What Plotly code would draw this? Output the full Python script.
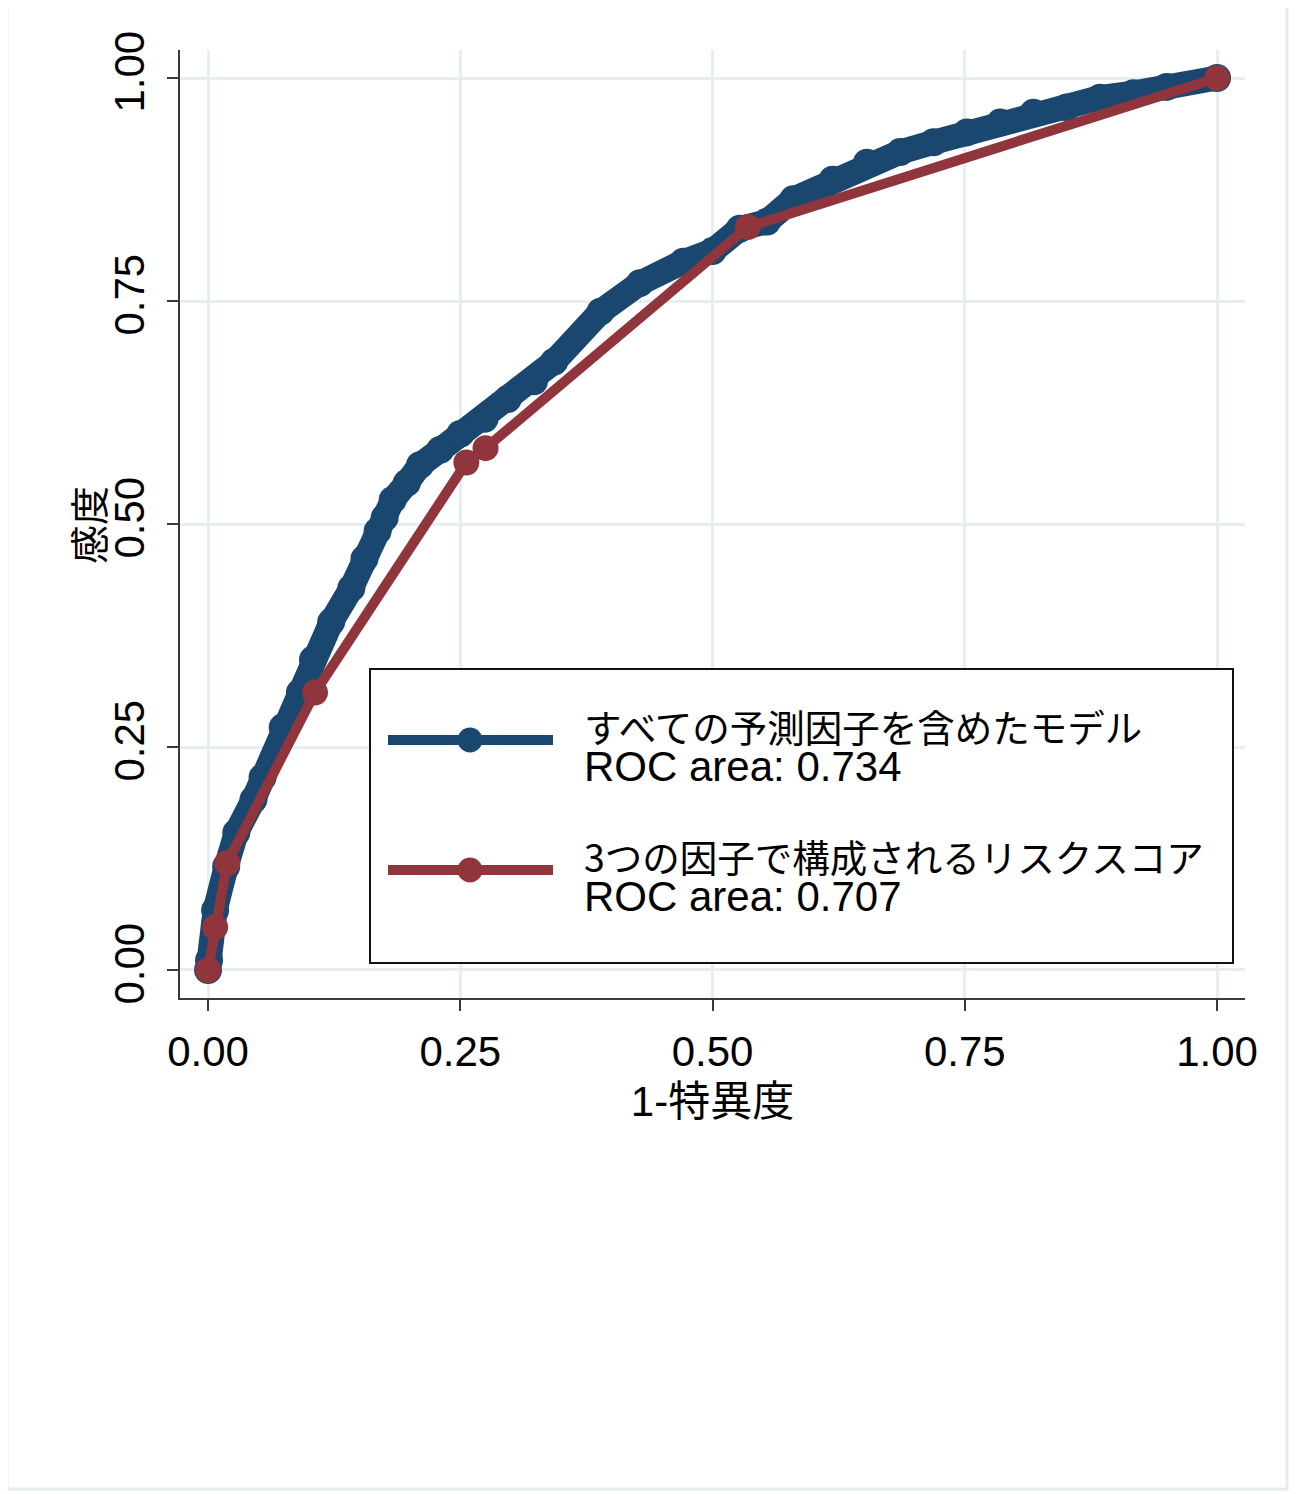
import plotly.graph_objects as go

# ---------------- data ----------------
full_model_fpr = [0.000, 0.001, 0.007, 0.018, 0.028, 0.045, 0.054, 0.074, 0.091, 0.104,
                  0.122, 0.142, 0.155, 0.168, 0.175, 0.183, 0.197, 0.210, 0.230, 0.250,
                  0.274, 0.297, 0.323, 0.343, 0.389, 0.428, 0.471, 0.500, 0.527, 0.554,
                  0.580, 0.619, 0.653, 0.686, 0.719, 0.752, 0.785, 0.818, 0.851, 0.884,
                  0.917, 0.950, 1.000]
full_model_tpr = [0.000, 0.011, 0.067, 0.116, 0.154, 0.191, 0.216, 0.272, 0.311, 0.348,
                  0.390, 0.428, 0.461, 0.492, 0.507, 0.527, 0.546, 0.566, 0.583, 0.601,
                  0.618, 0.640, 0.660, 0.682, 0.738, 0.770, 0.794, 0.806, 0.831, 0.839,
                  0.864, 0.886, 0.905, 0.917, 0.928, 0.939, 0.950, 0.961, 0.967, 0.978,
                  0.983, 0.990, 1.000]

risk_score_fpr = [0.000, 0.007, 0.019, 0.106, 0.256, 0.275, 0.535, 1.000]
risk_score_tpr = [0.000, 0.048, 0.120, 0.311, 0.569, 0.585, 0.833, 1.000]

series_names = ["すべての予測因子を含めたモデル", "3つの因子で構成されるリスクスコア"]
roc_labels = ["ROC area: 0.734", "ROC area: 0.707"]

tick_vals = [0, 0.25, 0.5, 0.75, 1.0]
tick_text = ["0.00", "0.25", "0.50", "0.75", "1.00"]

x_title = "1-特異度"
y_title = "感度"

# ---------------- styles ----------------
BLUE = "#1a476f"
RED = "#90353b"
GRID = "#e6eef1"
AXIS = "#3a3a3a"
LATIN = "Liberation Sans, Arial, Noto Sans CJK JP, sans-serif"
CJK = "Noto Sans CJK JP, Liberation Sans, sans-serif"

OFF = 8                      # page offset of the figure inside the browser window
W, H = 1298 - OFF, 1494 - OFF
L, T = 180 - OFF, 50 - OFF
R = W - (1245 - OFF)
B = H - (998 - OFF)
PW, PH = W - L - R, H - T - B


def px(xpix):
    """reference-window pixel x -> paper x"""
    return (xpix - OFF - L) / PW


def py(ypix):
    """reference-window pixel y -> paper y"""
    return (H - B - (ypix - OFF)) / PH


fig = go.Figure()
fig.add_trace(go.Scatter(
    x=full_model_fpr, y=full_model_tpr, mode="lines+markers",
    name=series_names[0],
    line=dict(color=BLUE, width=25),
    marker=dict(color=BLUE, size=28),
    cliponaxis=False,
))
fig.add_trace(go.Scatter(
    x=risk_score_fpr, y=risk_score_tpr, mode="lines+markers",
    name=series_names[1],
    line=dict(color=RED, width=10),
    marker=dict(color=RED, size=26),
    cliponaxis=False,
))

axis_common = dict(
    tickvals=tick_vals, ticktext=tick_text,
    ticks="outside", ticklen=11, tickwidth=2, tickcolor=AXIS,
    showline=True, linecolor=AXIS, linewidth=2,
    showgrid=True, gridcolor=GRID, gridwidth=3,
    zeroline=False,
    tickfont=dict(family=LATIN, size=42, color="#000"),
)

fig.update_xaxes(
    range=[-0.0278, 1.0277], **axis_common,
    ticklabelstandoff=5,
    title=dict(text=x_title, font=dict(family=LATIN, size=42, color="#000"), standoff=12),
)
fig.update_yaxes(
    range=[-0.0314, 1.0314], **axis_common,
    tickangle=-90, ticklabelstandoff=6,
)

shapes = []
# outer frame
shapes.append(dict(type="rect", xref="paper", yref="paper",
                   x0=px(7), x1=px(1287), y0=py(1489), y1=py(5),
                   line=dict(color="#e4ecef", width=3), layer="below"))
# legend box
shapes.append(dict(type="rect", xref="paper", yref="paper",
                   x0=px(370), x1=px(1233), y0=py(963), y1=py(669),
                   line=dict(color="#111", width=2), fillcolor="white", layer="above"))
legend_rows = [(740, BLUE), (870, RED)]
r = 12.5
for ycen, col in legend_rows:
    shapes.append(dict(type="line", xref="paper", yref="paper",
                       x0=px(388), x1=px(553), y0=py(ycen), y1=py(ycen),
                       line=dict(color=col, width=10), layer="above"))
    shapes.append(dict(type="circle", xref="paper", yref="paper",
                       x0=px(470 - r), x1=px(470 + r), y0=py(ycen + r), y1=py(ycen - r),
                       line=dict(color=col, width=0), fillcolor=col, layer="above"))

annotations = []
entry_rows = [(series_names[0], roc_labels[0], 744), (series_names[1], roc_labels[1], 874)]
for name, roc, ycen in entry_rows:
    txt = (f'<span style="font-size:37.5px;font-family:{CJK}">{name}</span><br>'
           f'<span style="font-size:42px">{roc}</span>')
    annotations.append(dict(text=txt, xref="paper", yref="paper",
                            x=px(582), y=py(ycen), xanchor="left", yanchor="middle",
                            align="left", showarrow=False,
                            font=dict(family=LATIN, size=30, color="#000")))
# y axis title
annotations.append(dict(text=y_title, xref="paper", yref="paper",
                        x=px(87), y=py(525), xanchor="center", yanchor="middle",
                        textangle=-90, showarrow=False,
                        font=dict(family=CJK, size=39, color="#000")))

fig.update_layout(
    width=W, height=H,
    margin=dict(l=L, r=R, t=T, b=B),
    plot_bgcolor="white", paper_bgcolor="white",
    showlegend=False,
    shapes=shapes, annotations=annotations,
    font=dict(family=LATIN, color="#000"),
)

fig.write_html("out.html")
